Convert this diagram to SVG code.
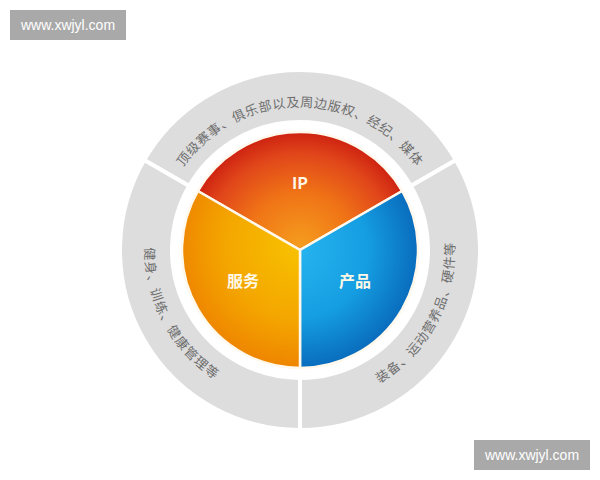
<svg xmlns="http://www.w3.org/2000/svg" width="600" height="480" viewBox="0 0 600 480">
<style>
.seg{fill:#dddddd;stroke:#ffffff;stroke-width:4}
.ring{font-family:"Noto Sans CJK SC","Noto Sans",sans-serif;font-size:13px;fill:#6e6e6e;letter-spacing:0.6px}
.pie{stroke:#fff8ec;stroke-width:2.5;stroke-linejoin:round}
.lbl{font-family:"Noto Sans CJK SC","Noto Sans",sans-serif;font-size:16px;font-weight:bold;fill:#fff8e6;text-anchor:middle}
.wm{fill:#a9a9a9}
.wmt{font-family:"Liberation Sans",Arial,sans-serif;font-size:14px;fill:#ffffff;text-anchor:middle}
</style>
<defs>
<radialGradient id="gIP" gradientUnits="userSpaceOnUse" cx="300" cy="250" r="120" fx="300" fy="245">
<stop offset="0" stop-color="#f59c1e"/>
<stop offset="0.45" stop-color="#f07416"/>
<stop offset="0.8" stop-color="#e0451a"/>
<stop offset="1" stop-color="#cc1f10"/>
</radialGradient>
<radialGradient id="gFW" gradientUnits="userSpaceOnUse" cx="300" cy="245" r="125">
<stop offset="0" stop-color="#f8c200"/>
<stop offset="0.6" stop-color="#f4a600"/>
<stop offset="1" stop-color="#ee8400"/>
</radialGradient>
<radialGradient id="gCP" gradientUnits="userSpaceOnUse" cx="300" cy="250" r="122">
<stop offset="0" stop-color="#26b3ef"/>
<stop offset="0.55" stop-color="#159ee2"/>
<stop offset="1" stop-color="#0868ba"/>
</radialGradient>
<path id="arcTop" d="M165.62,201.09 A143,143 0 0 1 434.38,201.09"/>
<path id="arcLeft" d="M168.55,167.86 A155,155 0 0 0 294.59,404.91"/>
<path id="arcRight" d="M305.41,404.91 A154,154 0 0 0 430.6,168.4"/>
</defs>
<rect width="600" height="480" fill="#ffffff"/>

<g id="ring-top">
<path class="seg" d="M144.12,160 A180,180 0 0 1 455.88,160 L410.85,186 A128,128 0 0 0 189.15,186 Z"/>
<text class="ring"><textPath href="#arcTop" startOffset="50%" text-anchor="middle">顶级赛事、俱乐部以及周边版权、经纪、媒体</textPath></text>
</g>
<g id="ring-right">
<path class="seg" d="M455.88,160 A180,180 0 0 1 300,430 L300,378 A128,128 0 0 0 410.85,186 Z"/>
<text class="ring" style="letter-spacing:1px"><textPath href="#arcRight" startOffset="50%" text-anchor="middle">装备、运动营养品、硬件等</textPath></text>
</g>
<g id="ring-left">
<path class="seg" d="M300,430 A180,180 0 0 1 144.12,160 L189.15,186 A128,128 0 0 0 300,378 Z"/>
<text class="ring" style="letter-spacing:1.2px"><textPath href="#arcLeft" startOffset="50%" text-anchor="middle">健身、训练、健康管理等</textPath></text>
</g>

<g id="node-ip">
<path class="pie" fill="url(#gIP)" d="M300,250 L197.81,191 A118,118 0 0 1 402.19,191 Z"/>
<text class="lbl" x="300" y="189">IP</text>
</g>
<g id="node-product">
<path class="pie" fill="url(#gCP)" d="M300,250 L402.19,191 A118,118 0 0 1 300,368 Z"/>
<text class="lbl" x="355" y="287">产品</text>
</g>
<g id="node-service">
<path class="pie" fill="url(#gFW)" d="M300,250 L300,368 A118,118 0 0 1 197.81,191 Z"/>
<text class="lbl" x="243" y="287">服务</text>
</g>
<g id="connectors"></g>

<g id="watermark-top">
<rect class="wm" x="10" y="10" width="116" height="30"/>
<text class="wmt" x="68" y="30">www.xwjyl.com</text>
</g>
<g id="watermark-bottom">
<rect class="wm" x="474" y="440" width="116" height="30"/>
<text class="wmt" x="532" y="460">www.xwjyl.com</text>
</g>
</svg>
